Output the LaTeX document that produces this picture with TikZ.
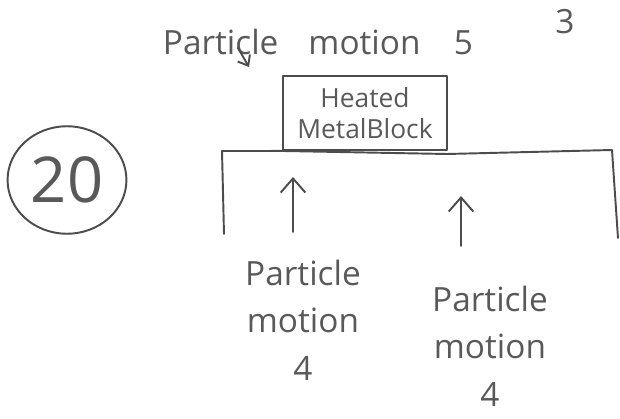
\documentclass[tikz,border=0pt]{standalone}
\usepackage{fontspec}
\setmainfont{Open Sans}
\usetikzlibrary{arrows.meta, shapes.geometric}

\tikzset{
  pencil/.style={draw=black!70, line width=1.1pt, line join=round, line cap=round},
  handtext/.style={text=black!65, font=\fontsize{19}{27}\selectfont, align=center, inner sep=1pt},
  smalltext/.style={text=black!65, font=\fontsize{15}{18}\selectfont, align=center, inner sep=1pt},
}

\begin{document}
\begin{tikzpicture}[x=0.02cm, y=-0.02cm, >={Straight Barb[length=8pt, width=14pt]}]
    % 画布 (按参考图的像素)
    \useasboundingbox (0,0) rectangle (620,419);

    % 题号 20
    \node[pencil, ellipse, minimum width=2.3cm, minimum height=2.15cm, text=black!65, font=\fontsize{36}{40}\selectfont] (num) at (67,180) {20};

    % 上方文字
    \node[handtext] (top) at (318,42) {Particle\hspace{0.9em}motion\hspace{1em}5};
    \node[handtext] (three) at (565,22) {3};
    \coordinate (topArrowTail) at (238,48);
    \coordinate (topArrowTip) at (249,67);
    \draw[pencil, -{Straight Barb[length=5pt, width=8pt]}] (topArrowTail) -- (topArrowTip);

    % 金属块
    \node[pencil, smalltext, minimum width=3.28cm, minimum height=1.48cm] (block) at (365,113) {Heated\\MetalBlock};

    % 容器 (上边与两侧)
    \coordinate (C1) at (224,234);
    \coordinate (C2) at (222,151);
    \coordinate (C3) at (447,154);
    \coordinate (C4) at (612,150);
    \coordinate (C5) at (618,238);
    \draw[pencil] (C1) -- (C2) -- (block.south west) -- (C3) -- (C4) -- (C5);

    % 向上的箭头
    \coordinate (up1Tail) at (293,232);
    \coordinate (up1Tip) at (293,177);
    \coordinate (up2Tail) at (461,246);
    \coordinate (up2Tip) at (461,196);
    \draw[pencil, ->] (up1Tail) -- (up1Tip);
    \draw[pencil, ->] (up2Tail) -- (up2Tip);

    % 下方标注
    \node[handtext, anchor=north] (leftLabel) at (303,258) {Particle\\motion\\4};
    \node[handtext, anchor=north] (rightLabel) at (490,284) {Particle\\motion\\4};
\end{tikzpicture}
\end{document}
